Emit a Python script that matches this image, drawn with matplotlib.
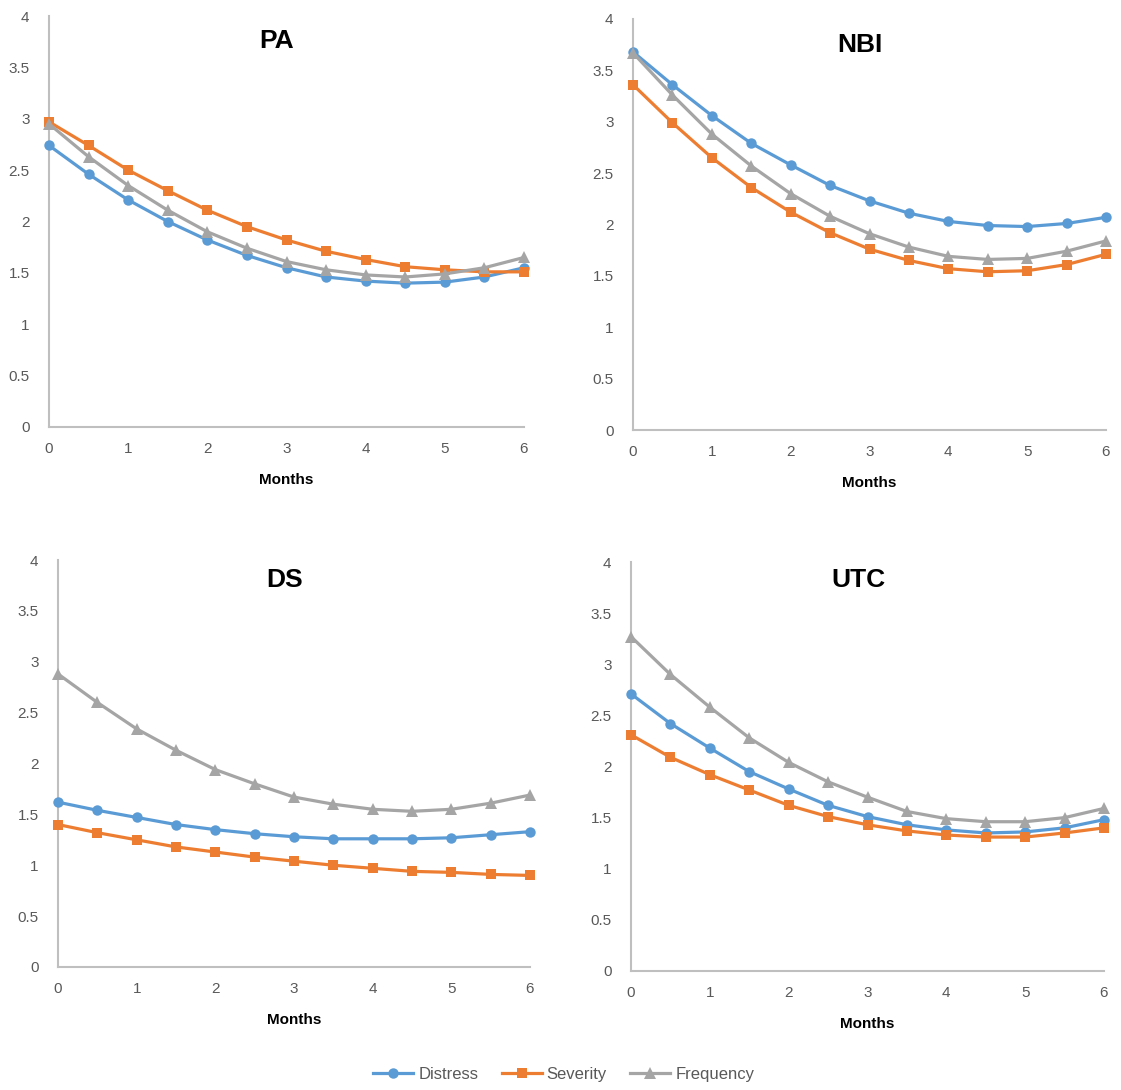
import numpy as np
import matplotlib
matplotlib.use("Agg")
import matplotlib.pyplot as plt
from matplotlib.lines import Line2D

plt.rcParams['font.family'] = ['Liberation Sans', 'DejaVu Sans']

months = [0, 0.5, 1, 1.5, 2, 2.5, 3, 3.5, 4, 4.5, 5, 5.5, 6]
series_names = ["Distress", "Severity", "Frequency"]
panel_titles = ["PA", "NBI", "DS", "UTC"]

pa_distress = [2.74, 2.46, 2.21, 2.00, 1.82, 1.67, 1.55, 1.46, 1.42, 1.40, 1.41, 1.46, 1.55]
pa_severity = [2.97, 2.74, 2.50, 2.30, 2.11, 1.95, 1.82, 1.71, 1.63, 1.56, 1.53, 1.51, 1.51]
pa_frequency = [2.95, 2.63, 2.35, 2.11, 1.90, 1.74, 1.61, 1.53, 1.48, 1.46, 1.49, 1.55, 1.65]

nbi_distress = [3.68, 3.36, 3.06, 2.79, 2.58, 2.38, 2.23, 2.11, 2.03, 1.99, 1.98, 2.01, 2.07]
nbi_severity = [3.36, 2.99, 2.65, 2.36, 2.12, 1.92, 1.76, 1.65, 1.57, 1.54, 1.55, 1.61, 1.71]
nbi_frequency = [3.67, 3.26, 2.88, 2.57, 2.30, 2.08, 1.91, 1.78, 1.69, 1.66, 1.67, 1.74, 1.84]

ds_distress = [1.62, 1.54, 1.47, 1.40, 1.35, 1.31, 1.28, 1.26, 1.26, 1.26, 1.27, 1.30, 1.33]
ds_severity = [1.40, 1.32, 1.25, 1.18, 1.13, 1.08, 1.04, 1.00, 0.97, 0.94, 0.93, 0.91, 0.90]
ds_frequency = [2.88, 2.60, 2.34, 2.13, 1.94, 1.80, 1.67, 1.60, 1.55, 1.53, 1.55, 1.61, 1.69]

utc_distress = [2.71, 2.42, 2.18, 1.95, 1.78, 1.62, 1.51, 1.43, 1.38, 1.35, 1.36, 1.40, 1.48]
utc_severity = [2.31, 2.09, 1.92, 1.77, 1.62, 1.51, 1.43, 1.37, 1.33, 1.31, 1.31, 1.35, 1.40]
utc_frequency = [3.27, 2.90, 2.58, 2.28, 2.04, 1.85, 1.70, 1.56, 1.49, 1.46, 1.46, 1.50, 1.59]

panels = [
    [pa_distress, pa_severity, pa_frequency],
    [nbi_distress, nbi_severity, nbi_frequency],
    [ds_distress, ds_severity, ds_frequency],
    [utc_distress, utc_severity, utc_frequency],
]

colors = ["#5B9BD5", "#ED7D31", "#A5A5A5"]
markers = ["o", "s", "^"]
msizes = [7.5, 7.5, 9]

W, H = 1121, 1090
# plot area in pixels: left, right, top (y=4), bottom (y=0)
boxes = [(49, 524, 16, 427), (633, 1106, 19, 430),
         (58, 530, 560, 967), (631, 1104, 562, 971)]
title_y = [0.94, 0.937, 0.95, 0.955]

fig = plt.figure(figsize=(W / 100, H / 100), dpi=100)

for i, (l, r, t, b) in enumerate(boxes):
    ax = fig.add_axes([l / W, (H - b) / H, (r - l) / W, (b - t) / H])
    for vals, c, m, s in zip(panels[i], colors, markers, msizes):
        ax.plot(months, vals, color=c, lw=2.3, marker=m, ms=s,
                markeredgewidth=0, clip_on=False, zorder=3)
    ax.set_xlim(0, 6)
    ax.set_ylim(0, 4)
    ax.set_xticks(range(7))
    ax.set_yticks(np.arange(0, 4.01, 0.5))
    ax.set_yticklabels(["0", "0.5", "1", "1.5", "2", "2.5", "3", "3.5", "4"])
    ax.tick_params(length=0, labelsize=11, labelcolor="#595959")
    ax.tick_params(axis="y", pad=14)
    ax.tick_params(axis="x", pad=11)
    for sp in ["top", "right"]:
        ax.spines[sp].set_visible(False)
    for sp in ["left", "bottom"]:
        ax.spines[sp].set_color("#BFBFBF")
        ax.spines[sp].set_linewidth(1.5)
    ax.set_xlabel("Months", fontsize=11, fontweight="bold", labelpad=12)
    ax.text(0.48, title_y[i], panel_titles[i], transform=ax.transAxes,
            ha="center", va="center", fontsize=19, fontweight="bold")

handles = [Line2D([], [], color=c, lw=2.3, marker=m, ms=s, markeredgewidth=0)
           for c, m, s in zip(colors, markers, msizes)]
leg = fig.legend(handles, series_names, loc="lower center", ncol=3,
                 bbox_to_anchor=(0.503, -0.006), frameon=False, fontsize=12,
                 handlelength=2.4, handletextpad=0.3, columnspacing=1.4)
for txt in leg.get_texts():
    txt.set_color("#595959")

fig.savefig("out.png", dpi=100)
